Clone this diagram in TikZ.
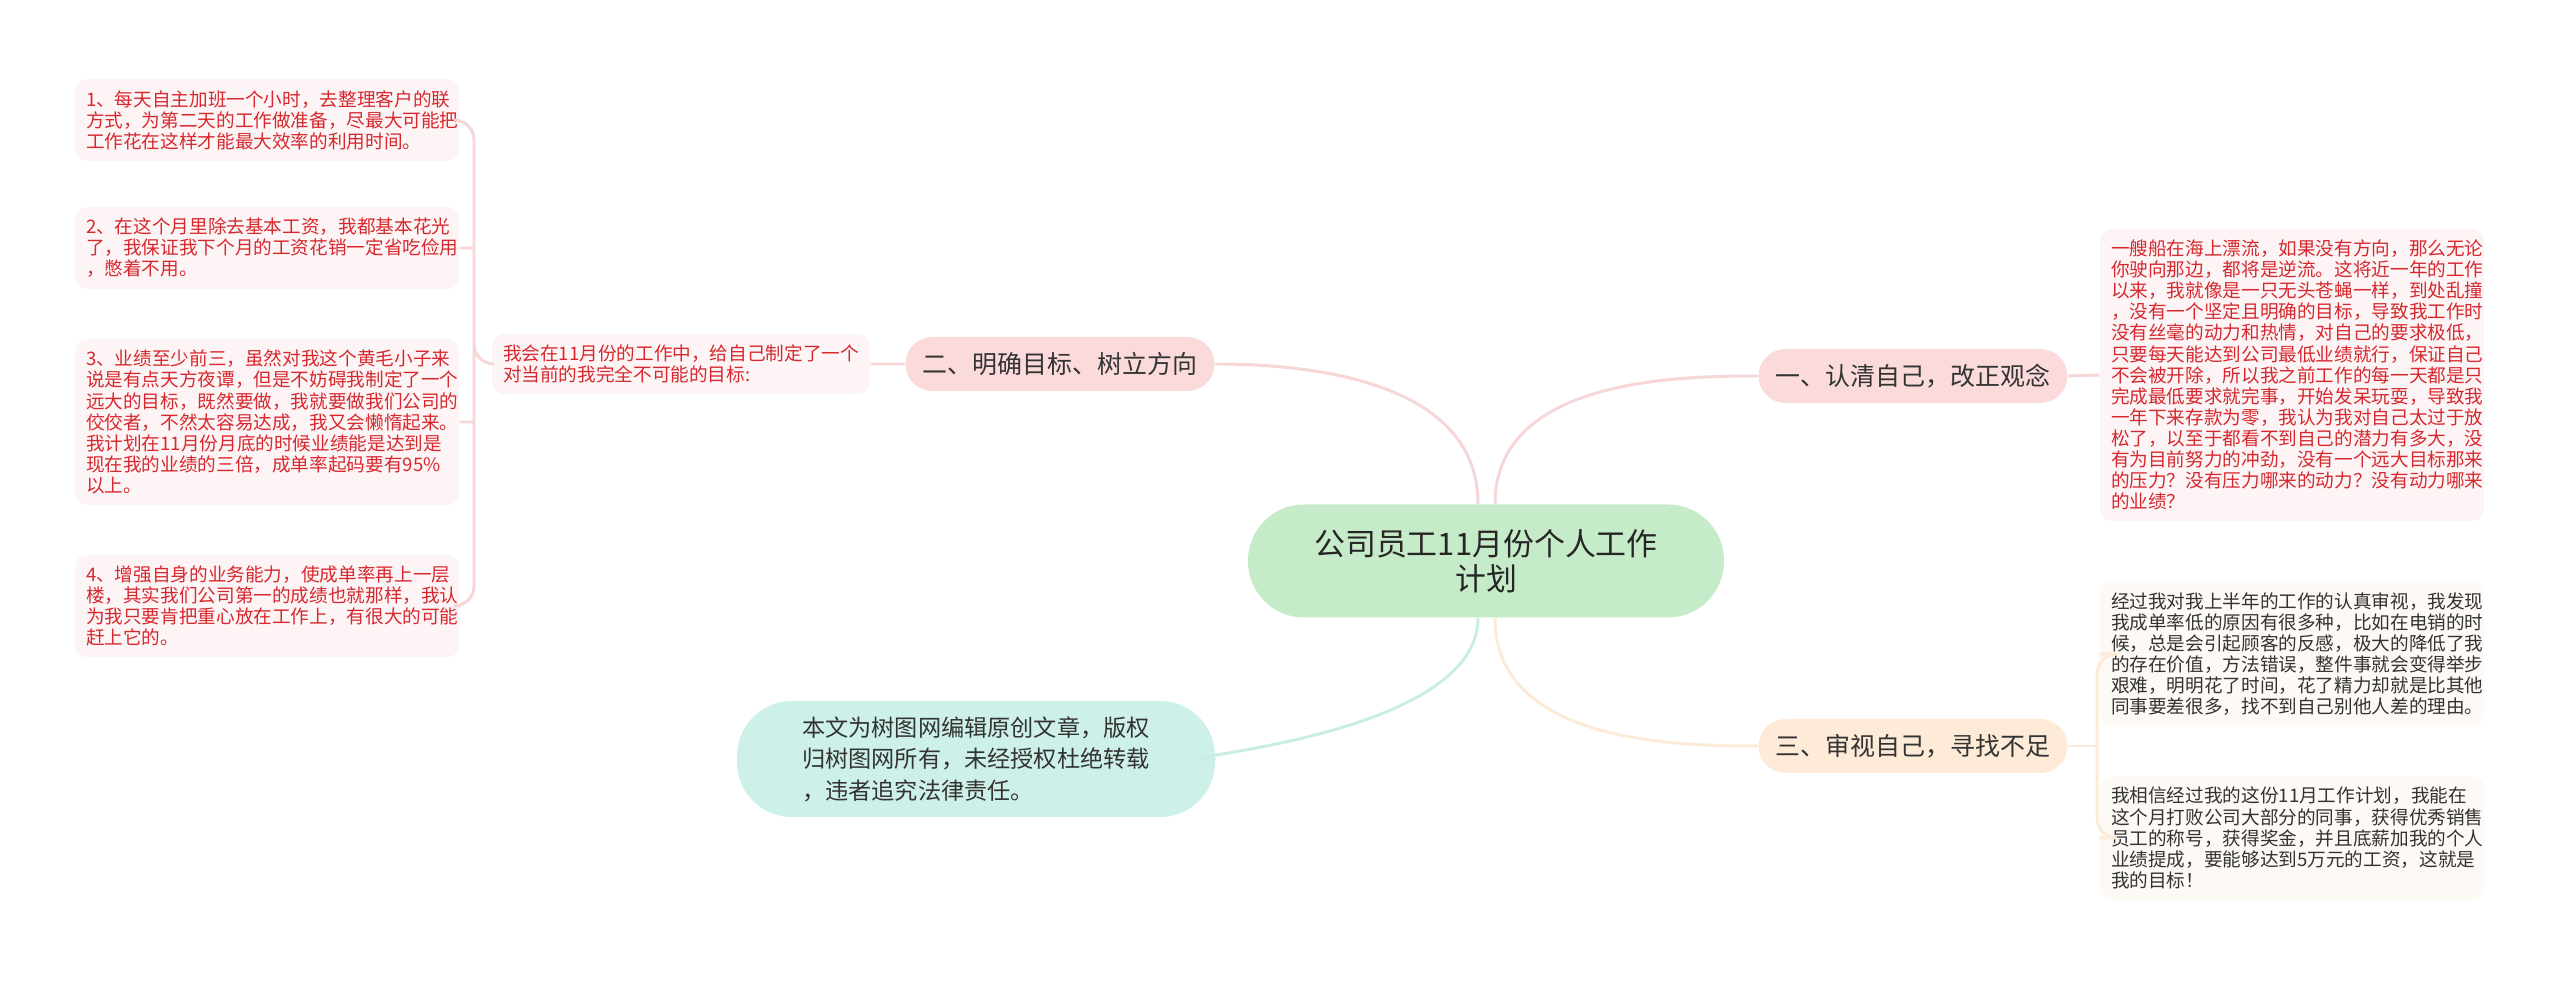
\documentclass[tikz,border=0pt]{standalone}
\usepackage{fontspec}
\setmainfont{Noto Sans CJK SC}
\usepackage{tikz}
\usetikzlibrary{calc}
\definecolor{leafred}{HTML}{D7282F}
\definecolor{leafpink}{HTML}{FDF5F5}
\definecolor{leafcream}{HTML}{FDF9F4}
\definecolor{linkpink}{HTML}{F6D6D6}
\definecolor{linkcream}{HTML}{FBEBD8}
\definecolor{linkcyan}{HTML}{C9EEE6}
\definecolor{rootgreen}{HTML}{C6EBC9}
\definecolor{branchpink}{HTML}{FADADB}
\definecolor{branchcream}{HTML}{FDEBD8}
\definecolor{notecyan}{HTML}{CDF0E8}
\tikzset{
  leaf/.style={fill=leafpink, text=leafred, rounded corners=1.2mm, align=left,
    inner sep=1.1mm, text width=36.2mm, font=\fontsize{5.3}{6}\selectfont},
  leafb/.style={leaf, fill=leafcream, text=black!80},
  branch/.style={rounded corners=2.7mm, minimum width=30.9mm, minimum height=5.4mm,
    inner sep=0pt, text=black!80, font=\fontsize{7.1}{8}\selectfont},
  link/.style={line width=0.85pt}
}
\begin{document}
\begin{tikzpicture}[x=0.1mm,y=-0.1mm]
    \useasboundingbox (0,0) rectangle (2560,984);

    % centre
    \node (c) at (1486,561) [fill=rootgreen, rounded corners=5.6mm, minimum width=47.6mm,
      minimum height=11.3mm, align=center, text=black!85,
      font=\fontsize{8.8}{10}\selectfont] {公司员工11月份个人工作\\计划};

    % left
    \node (b2) at (1060,364) [branch, fill=branchpink] {二、明确目标、树立方向};
    \node (l0) at (681,364) [leaf, text width=35.6mm] {我会在11月份的工作中，给自己制定了一个\\对当前的我完全不可能的目标:};
    \node (l1) at (267,120) [leaf] {1、每天自主加班一个小时，去整理客户的联\\方式，为第二天的工作做准备，尽最大可能把\\工作花在这样才能最大效率的利用时间。};
    \node (l2) at (267,248) [leaf] {2、在这个月里除去基本工资，我都基本花光\\了，我保证我下个月的工资花销一定省吃俭用\\，憋着不用。};
    \node (l3) at (267,422) [leaf] {3、业绩至少前三，虽然对我这个黄毛小子来\\说是有点天方夜谭，但是不妨碍我制定了一个\\远大的目标，既然要做，我就要做我们公司的\\佼佼者，不然太容易达成，我又会懒惰起来。\\我计划在11月份月底的时候业绩能是达到是\\现在我的业绩的三倍，成单率起码要有95\%\\以上。};
    \node (l4) at (267,606) [leaf] {4、增强自身的业务能力，使成单率再上一层\\楼，其实我们公司第一的成绩也就那样，我认\\为我只要肯把重心放在工作上，有很大的可能\\赶上它的。};
    \node (cp) at (976,759) [fill=notecyan, rounded corners=5.5mm, minimum width=47.8mm,
      minimum height=11.6mm, align=left, text=black!80,
      font=\fontsize{6.6}{9}\selectfont] {本文为树图网编辑原创文章，版权\\归树图网所有，未经授权杜绝转载\\，违者追究法律责任。};

    % right
    \node (b1) at (1913,376) [branch, fill=branchpink] {一、认清自己，改正观念};
    \node (b3) at (1913,746) [branch, fill=branchcream] {三、审视自己，寻找不足};
    \node (r1) at (2292,375) [leaf] {一艘船在海上漂流，如果没有方向，那么无论\\你驶向那边，都将是逆流。这将近一年的工作\\以来，我就像是一只无头苍蝇一样，到处乱撞\\，没有一个坚定且明确的目标，导致我工作时\\没有丝毫的动力和热情，对自己的要求极低，\\只要每天能达到公司最低业绩就行，保证自己\\不会被开除，所以我之前工作的每一天都是只\\完成最低要求就完事，开始发呆玩耍，导致我\\一年下来存款为零，我认为我对自己太过于放\\松了，以至于都看不到自己的潜力有多大，没\\有为目前努力的冲劲，没有一个远大目标那来\\的压力？没有压力哪来的动力？没有动力哪来\\的业绩？};
    \node (r2) at (2292,654) [leafb] {经过我对我上半年的工作的认真审视，我发现\\我成单率低的原因有很多种，比如在电销的时\\候，总是会引起顾客的反感，极大的降低了我\\的存在价值，方法错误，整件事就会变得举步\\艰难，明明花了时间，花了精力却就是比其他\\同事要差很多，找不到自己别他人差的理由。};
    \node (r3) at (2292,838) [leafb] {我相信经过我的这份11月工作计划，我能在\\这个月打败公司大部分的同事，获得优秀销售\\员工的称号，获得奖金，并且底薪加我的个人\\业绩提成，要能够达到5万元的工资，这就是\\我的目标！};

    \draw[link, linkpink] ($(c.north)+(-8,0)$) .. controls ($(c.north)+(-8,-125)$) and ($(b2.east)+(90,0)$) .. (b2.east);
    \draw[link, linkpink] ($(c.north)+(9,0)$) .. controls ($(c.north)+(9,-125)$) and ($(b1.west)+(-80,0)$) .. (b1.west);
    \draw[link, linkcyan] ($(c.south)+(-8,0)$) .. controls ($(c.south)+(-8,125)$) and ($(cp.east)+(-90,0)$) .. (cp.east);
    \draw[link, linkcream] ($(c.south)+(9,0)$) .. controls ($(c.south)+(9,125)$) and ($(b3.west)+(-80,0)$) .. (b3.west);

    \draw[link, linkpink] (b2.west) to (l0.east) (b1.east) to (r1.west);
    \draw[link, linkpink, rounded corners=2mm] (l0.west) -| (474,364)
      (l1.east) -| (474,380) (l4.east) -| (474,350) (l2.east) -- (474,248) (l3.east) -- (474,422);
    \draw[link, linkcream] (b3.east) -- (2097,746);
    \draw[link, linkcream, rounded corners=2mm] (r2.west) -| (2097,760) (r3.west) -| (2097,730);
\end{tikzpicture}
\end{document}
